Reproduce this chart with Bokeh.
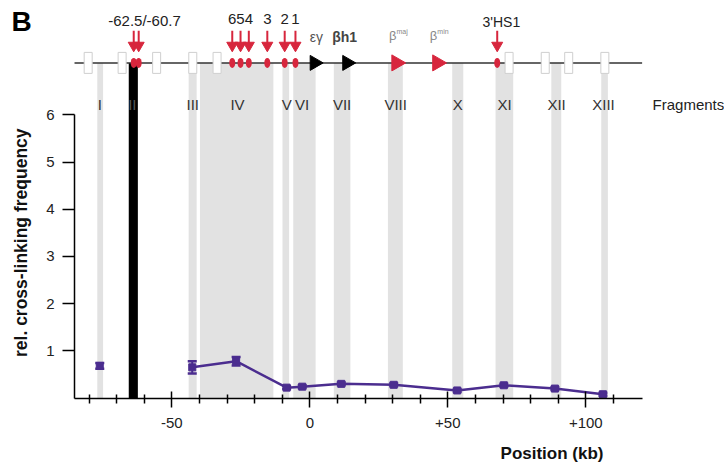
from bokeh.plotting import figure
from bokeh.models import Range1d, FixedTicker
from bokeh.core.properties import value
from bokeh.embed import file_html
from bokeh.resources import INLINE
import math

# ---------------- data ----------------
frag_names = ["I", "II", "III", "IV", "V", "VI", "VII", "VIII", "X", "XI", "XII", "XIII"]
frag_label_x = [-76.1, -64.3, -42.4, -26.2, -8.4, -2.8, 11.7, 31.1, 53.6, 70.6, 89.4, 106.4]
band_left = [-77.0, -43.9, -39.8, -9.9, -6.0, 8.7, 28.3, 51.6, 67.3, 87.5, 105.6]
band_right = [-74.9, -41.0, -13.2, -7.5, 2.1, 14.7, 33.7, 55.6, 73.7, 91.1, 108.0]
bait_left = [-65.6]
bait_right = [-62.3]

# cross-linking frequencies (fragment I is isolated, rest connected)
iso_x = [-76.1]
iso_y = [0.68]
iso_err = [0.06]
line_x = [-42.6, -26.7, -8.4, -2.75, 11.4, 30.4, 53.4, 70.3, 88.8, 106.2]
line_y = [0.65, 0.78, 0.22, 0.24, 0.30, 0.28, 0.16, 0.27, 0.20, 0.08]
line_err = [0.13, 0.09, 0.03, 0.03, 0.03, 0.03, 0.03, 0.03, 0.03, 0.03]

# gene map
box_x = [-80.3, -68.0, -55.5, -42.4, -33.6, 72.2, 85.3, 93.8, 106.9]
hs_x = [-63.8, -62.0, -28.1, -25.1, -22.1, -15.4, -9.1, -5.2, 67.9]
hs_digit_x = [-28.1, -25.1, -22.1, -15.4, -9.1, -5.2]
hs_digits = ["6", "5", "4", "3", "2", "1"]
black_gene_x = [1.7, 13.5]
red_gene_x = [31.4, 46.2]

x_ticks = [-50, 0, 50, 100]
x_tick_labels = ["-50", "0", "+50", "+100"]
x_minor = [-80, -70, -60, -40, -30, -20, -10, 10, 20, 30, 40, 60, 70, 80, 90, 110]
y_ticks = [1, 2, 3, 4, 5, 6]

RED = "#d7263d"
PURPLE = "#4b2d8f"
BAND = "#e2e2e2"
FONT = "Liberation Sans"

GENE_Y = 7.10
FRAG_Y = 6.22
X_MIN, X_MAX = -85.25, 120.4

W, H = 724, 466
p = figure(width=W, height=H, output_backend="svg", toolbar_location=None,
           x_range=Range1d(-112.07, 150.25), y_range=Range1d(-1.451, 8.422),
           min_border_left=0, min_border_right=0, min_border_top=0, min_border_bottom=0)
p.outline_line_color = None
p.xgrid.visible = False
p.ygrid.visible = False
p.background_fill_color = "white"

# bands
p.quad(left=band_left, right=band_right, bottom=0, top=GENE_Y, fill_color=BAND, line_color=None)
p.quad(left=bait_left, right=bait_right, bottom=0, top=GENE_Y, fill_color="black", line_color=None)

# gene line
p.segment(x0=[X_MIN], y0=[GENE_Y], x1=[X_MAX], y1=[GENE_Y], line_color="#333333", line_width=1.5)
# white boxes
p.rect(x=box_x, y=[GENE_Y] * len(box_x), width=8, height=21, width_units="screen",
       height_units="screen", fill_color="white", line_color="#cfcfcf", line_width=1)
# hypersensitive sites
p.ellipse(x=hs_x, y=[GENE_Y] * len(hs_x), width=6, height=10, width_units="screen",
          height_units="screen", fill_color=RED, line_color=None)
# arrows
p.segment(x0=hs_x, y0=[7.78] * len(hs_x), x1=hs_x, y1=[7.50] * len(hs_x), line_color=RED, line_width=2)
p.scatter(x=hs_x, y=[7.47] * len(hs_x), marker="inverted_triangle", size=11, fill_color=RED, line_color=RED)
# genes
p.scatter(x=black_gene_x, y=[GENE_Y] * 2, marker="triangle", angle=-math.pi / 2, size=15,
          fill_color="black", line_color="black")
p.scatter(x=red_gene_x, y=[GENE_Y] * 2, marker="triangle", angle=-math.pi / 2, size=16,
          fill_color=RED, line_color=RED)

# top texts
p.text(x=hs_digit_x, y=[8.02] * len(hs_digit_x), text=hs_digits, text_font=value(FONT),
       text_font_size="15px", text_align="center", text_baseline="middle", text_color="#222222")
p.text(x=[-59.9], y=[8.0], text=["-62.5/-60.7"], text_font=value(FONT), text_font_size="15px",
       text_align="center", text_baseline="middle", text_color="#222222")
p.text(x=[69.4], y=[7.96], text=["3'HS1"], text_font=value(FONT), text_font_size="14px",
       text_align="center", text_baseline="middle", text_color="#222222")
p.text(x=[2.4], y=[7.64], text=["εγ"], text_font=value(FONT), text_font_size="14px",
       text_align="center", text_baseline="middle", text_color="#555555")
p.text(x=[12.6], y=[7.64], text=["βh1"], text_font=value(FONT), text_font_size="14px",
       text_font_style="bold", text_align="center", text_baseline="middle", text_color="#444444")
p.text(x=red_gene_x, y=[7.68] * 2, text=["β", "β"], text_font=value(FONT), text_font_size="13px",
       text_align="right", text_baseline="middle", text_color="#888888")
p.text(x=red_gene_x, y=[7.68] * 2, text=["maj", "min"], text_font=value(FONT), text_font_size="7px",
       text_align="left", text_baseline="middle", y_offset=-4, text_color="#888888")

# fragment labels
p.text(x=frag_label_x, y=[FRAG_Y] * len(frag_label_x), text=frag_names, text_font=value(FONT),
       text_font_size="15px", text_align="center", text_baseline="middle",
       text_color=["#333333", "#555555"] + ["#333333"] * 10)
p.text(x=[124.2], y=[FRAG_Y], text=["Fragments"], text_font=value(FONT), text_font_size="15px",
       text_align="left", text_baseline="middle", text_color="#222222")

# data
p.line(x=line_x, y=line_y, line_color=PURPLE, line_width=2.5)
all_x = iso_x + line_x
all_y = iso_y + line_y
all_e = iso_err + line_err
lo = [y - e for y, e in zip(all_y, all_e)]
hi = [y + e for y, e in zip(all_y, all_e)]
p.segment(x0=all_x, y0=lo, x1=all_x, y1=hi, line_color=PURPLE, line_width=2)
p.scatter(x=all_x + all_x, y=lo + hi, marker="dash", size=9, line_color=PURPLE, line_width=2.5)
p.scatter(x=all_x, y=all_y, marker="square", size=7, fill_color=PURPLE, line_color=PURPLE)

# axes (drawn inside the frame at fixed locations)
xa = p.xaxis[0]
xa.fixed_location = 0
xa.bounds = (X_MIN, X_MAX)
xa.ticker = FixedTicker(ticks=x_ticks, minor_ticks=x_minor)
xa.major_label_overrides = {t: l for t, l in zip(x_ticks, x_tick_labels)}
xa.major_tick_in = 7
xa.major_tick_out = 9
xa.minor_tick_in = 4
xa.minor_tick_out = 5
xa.axis_line_width = 1.5
xa.major_tick_line_width = 1.5
xa.minor_tick_line_width = 1.5
xa.major_label_standoff = 11
xa.major_label_text_font = FONT
xa.major_label_text_font_size = "15px"
xa.major_label_text_color = "#222222"

ya = p.yaxis[0]
ya.fixed_location = X_MIN
ya.bounds = (0, 6)
ya.ticker = FixedTicker(ticks=y_ticks, minor_ticks=[])
ya.major_tick_in = 0
ya.major_tick_out = 12
ya.axis_line_width = 1.5
ya.major_tick_line_width = 1.5
ya.major_label_standoff = 8
ya.major_label_text_font = FONT
ya.major_label_text_font_size = "15px"
ya.major_label_text_color = "#222222"

# panel letter and axis titles
p.text(x=[-108.1], y=[7.98], text=["B"], text_font=value(FONT), text_font_size="28px",
       text_font_style="bold", text_align="left", text_baseline="alphabetic", text_color="black")
p.text(x=[-104.8], y=[3.29], text=["rel. cross-linking frequency"], angle=math.pi / 2,
       text_font=value(FONT), text_font_size="17.5px", text_font_style="bold",
       text_align="center", text_baseline="middle", text_color="#111111")
p.text(x=[106.4], y=[-1.176], text=["Position (kb)"], text_font=value(FONT),
       text_font_size="17px", text_font_style="bold", text_align="right",
       text_baseline="middle", text_color="#111111")

open("out.html", "w").write(file_html(p, INLINE))
